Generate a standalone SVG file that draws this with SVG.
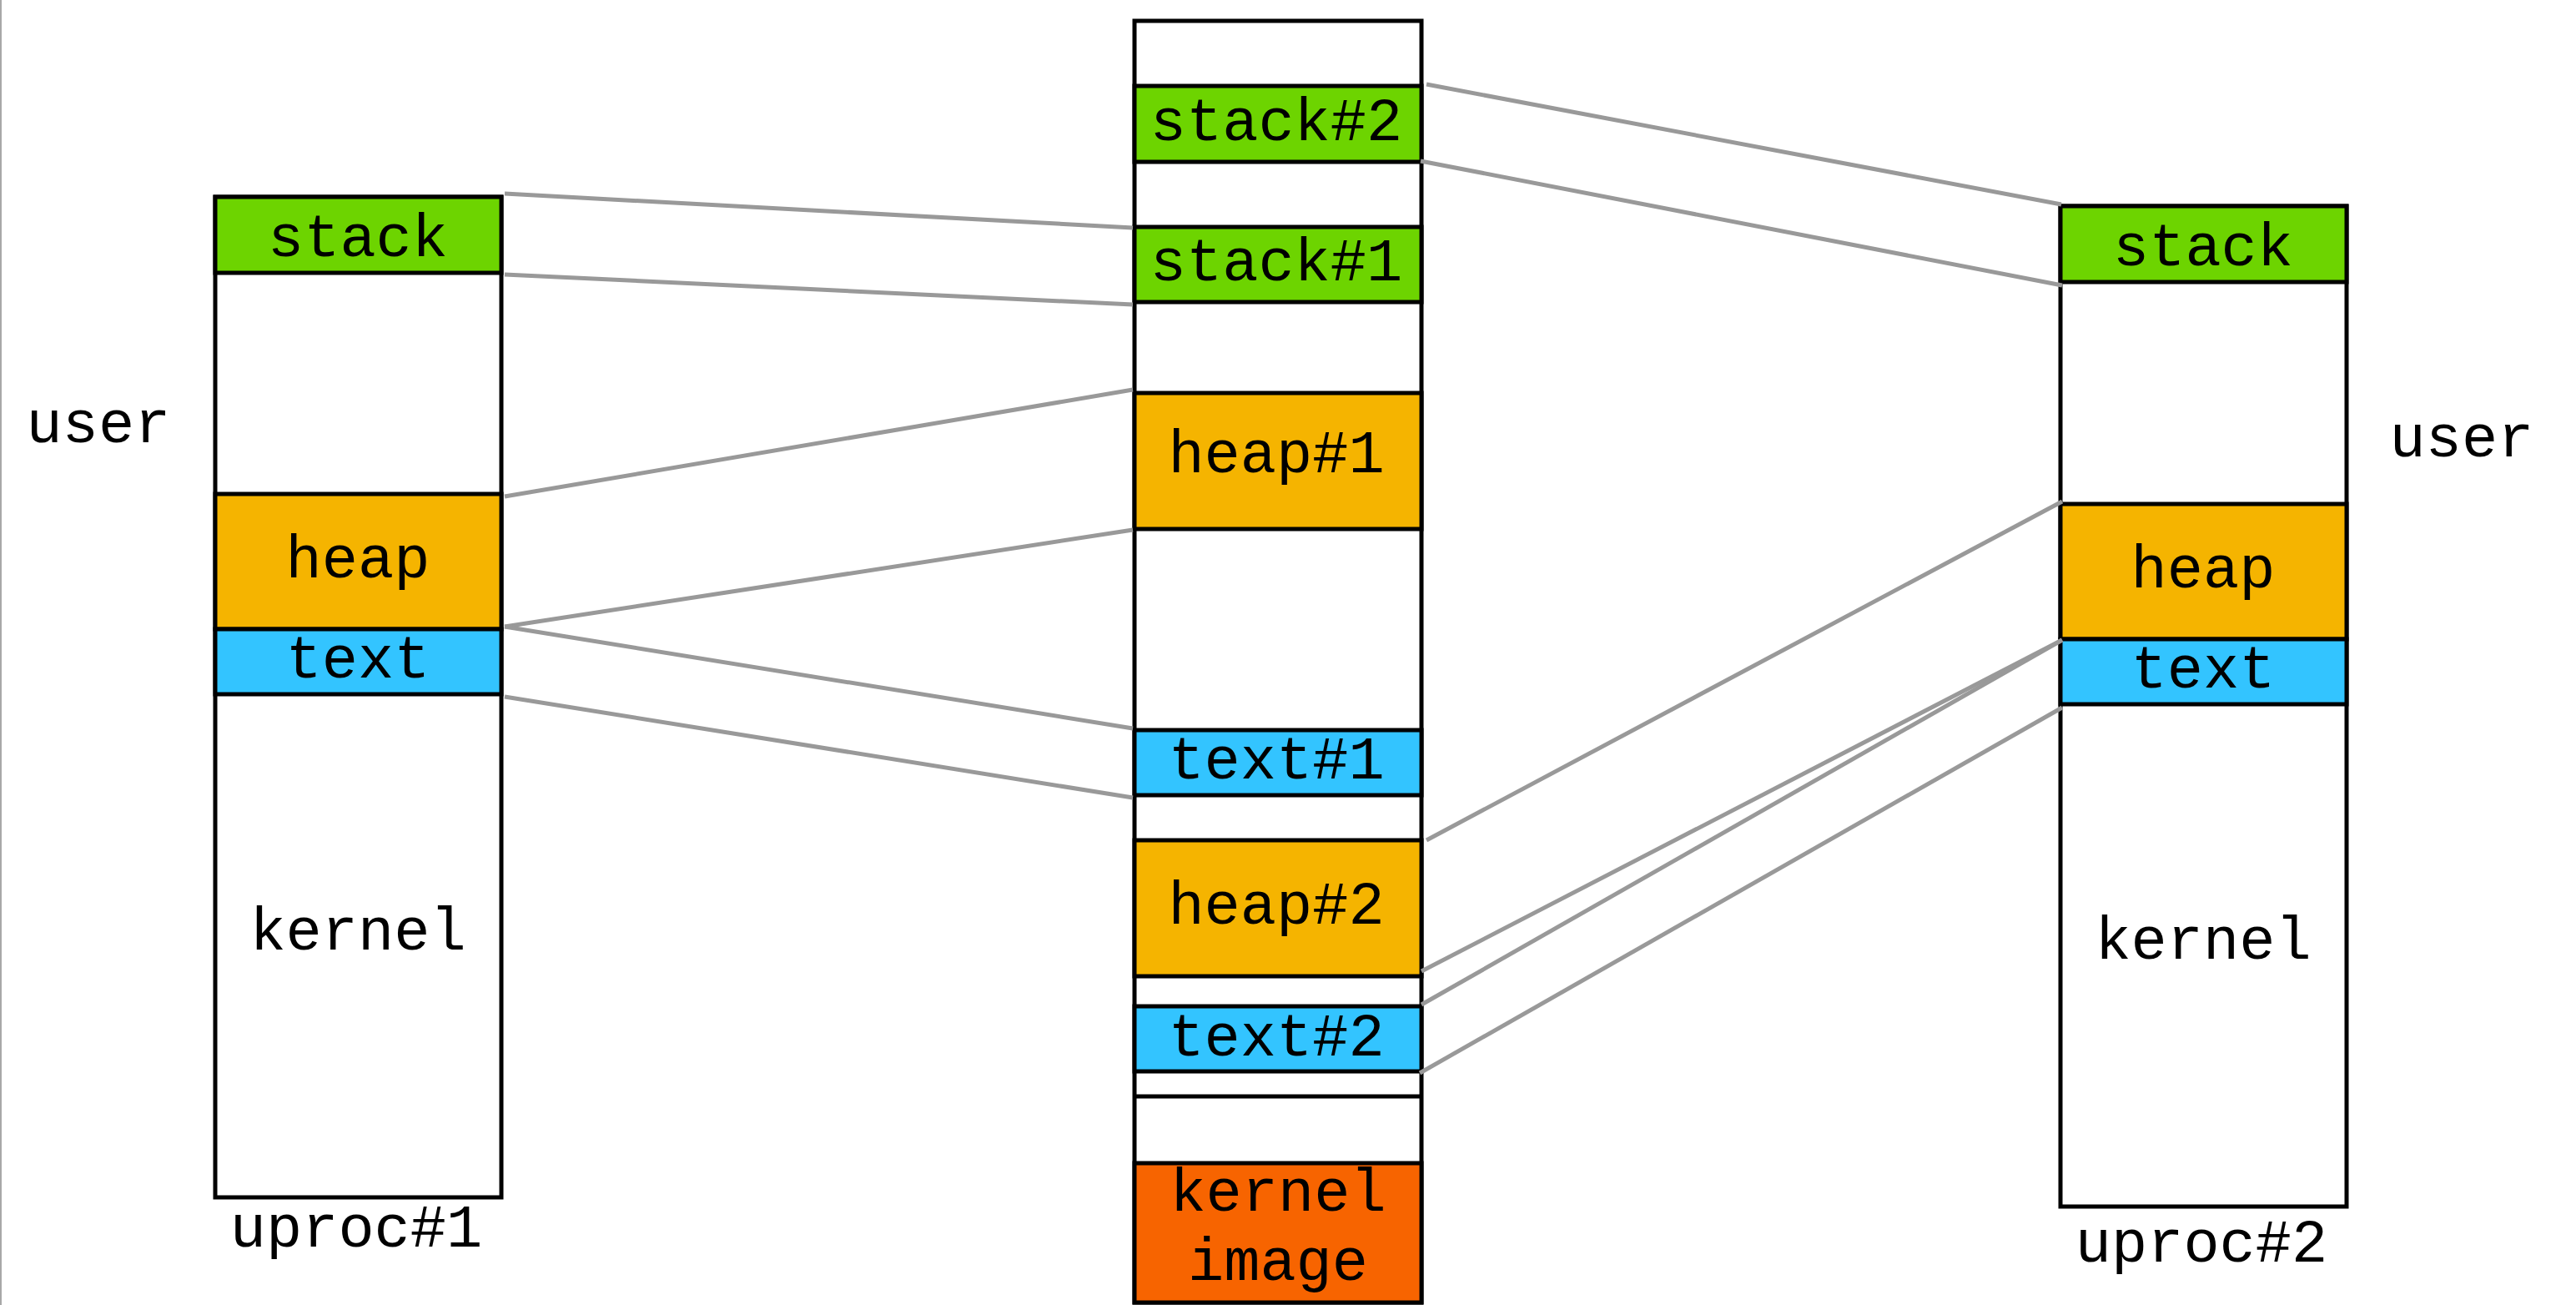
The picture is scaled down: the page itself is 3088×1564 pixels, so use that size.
<svg xmlns="http://www.w3.org/2000/svg" width="3088" height="1564" viewBox="0 0 3088 1564">
  <style>
    .frame { fill: #ffffff; stroke: #000000; stroke-width: 5; }
    .seg { stroke: #000000; stroke-width: 5; }
    .sep { stroke: #000000; stroke-width: 5; }
    .stack { fill: #6dd400; }
    .heap { fill: #f5b400; }
    .text { fill: #33c4ff; }
    .kimg { fill: #f76400; }
    .lbl { font-family: "Liberation Mono", "Courier New", monospace; font-size: 72px; fill: #000000; text-anchor: middle; }
    .map { stroke: #999999; stroke-width: 5; fill: none; }
  </style>

  <rect x="0" y="0" width="3088" height="1564" fill="#ffffff"/>
  <line x1="1" y1="0" x2="1" y2="1564" stroke="#a8a8a8" stroke-width="2"/>

  <!-- virtual address space of process 1 -->
  <g id="uproc1">
    <rect class="frame" x="258" y="236" width="343" height="1199"/>
    <g id="uproc1-stack">
      <rect class="seg stack" x="258" y="236" width="343" height="91"/>
      <text class="lbl" x="429" y="307">stack</text>
    </g>
    <g id="uproc1-heap">
      <rect class="seg heap" x="258" y="592" width="343" height="162"/>
      <text class="lbl" x="429" y="692">heap</text>
    </g>
    <g id="uproc1-text">
      <rect class="seg text" x="258" y="754" width="343" height="78"/>
      <text class="lbl" x="429" y="812">text</text>
    </g>
    <text class="lbl" x="429" y="1138">kernel</text>
    <text class="lbl" x="118" y="530">user</text>
    <text class="lbl" x="427" y="1494">uproc#1</text>
  </g>

  <!-- physical memory -->
  <g id="physmem">
    <rect class="frame" x="1360" y="25" width="344" height="1536"/>
    <g id="mem-stack2">
      <rect class="seg stack" x="1360" y="103" width="344" height="91"/>
      <text class="lbl" x="1530" y="168">stack#2</text>
    </g>
    <g id="mem-stack1">
      <rect class="seg stack" x="1360" y="272" width="344" height="90"/>
      <text class="lbl" x="1530" y="336">stack#1</text>
    </g>
    <g id="mem-heap1">
      <rect class="seg heap" x="1360" y="471" width="344" height="163"/>
      <text class="lbl" x="1530" y="566">heap#1</text>
    </g>
    <g id="mem-text1">
      <rect class="seg text" x="1360" y="875" width="344" height="78"/>
      <text class="lbl" x="1530" y="933">text#1</text>
    </g>
    <g id="mem-heap2">
      <rect class="seg heap" x="1360" y="1007" width="344" height="163"/>
      <text class="lbl" x="1530" y="1107">heap#2</text>
    </g>
    <g id="mem-text2">
      <rect class="seg text" x="1360" y="1206" width="344" height="78"/>
      <text class="lbl" x="1530" y="1265">text#2</text>
    </g>
    <line class="sep" x1="1360" y1="1314" x2="1704" y2="1314"/>
    <g id="mem-kernel">
      <rect class="seg kimg" x="1360" y="1394" width="344" height="167"/>
      <text class="lbl" x="1532" y="1451">kernel</text>
      <text class="lbl" x="1532" y="1534">image</text>
    </g>
  </g>

  <!-- virtual address space of process 2 -->
  <g id="uproc2">
    <rect class="frame" x="2470" y="247" width="343" height="1199"/>
    <g id="uproc2-stack">
      <rect class="seg stack" x="2470" y="247" width="343" height="91"/>
      <text class="lbl" x="2641" y="318">stack</text>
    </g>
    <g id="uproc2-heap">
      <rect class="seg heap" x="2470" y="604" width="343" height="162"/>
      <text class="lbl" x="2641" y="704">heap</text>
    </g>
    <g id="uproc2-text">
      <rect class="seg text" x="2470" y="766" width="343" height="78"/>
      <text class="lbl" x="2641" y="824">text</text>
    </g>
    <text class="lbl" x="2641" y="1149">kernel</text>
    <text class="lbl" x="2951" y="547">user</text>
    <text class="lbl" x="2639" y="1512">uproc#2</text>
  </g>

  <!-- page mappings -->
  <g id="mappings">
    <line class="map" x1="605" y1="232" x2="1358" y2="273"/>
    <line class="map" x1="605" y1="329" x2="1358" y2="365"/>
    <line class="map" x1="605" y1="595" x2="1358" y2="467"/>
    <line class="map" x1="605" y1="751" x2="1358" y2="635"/>
    <line class="map" x1="605" y1="751" x2="1358" y2="873"/>
    <line class="map" x1="605" y1="835" x2="1358" y2="956"/>
    <line class="map" x1="1710" y1="101" x2="2471" y2="245"/>
    <line class="map" x1="1703" y1="193" x2="2472" y2="342"/>
    <line class="map" x1="1710" y1="1007" x2="2472" y2="601"/>
    <line class="map" x1="1704" y1="1164" x2="2472" y2="767"/>
    <line class="map" x1="1704" y1="1204" x2="2472" y2="767"/>
    <line class="map" x1="1702" y1="1286" x2="2472" y2="848"/>
  </g>
</svg>
